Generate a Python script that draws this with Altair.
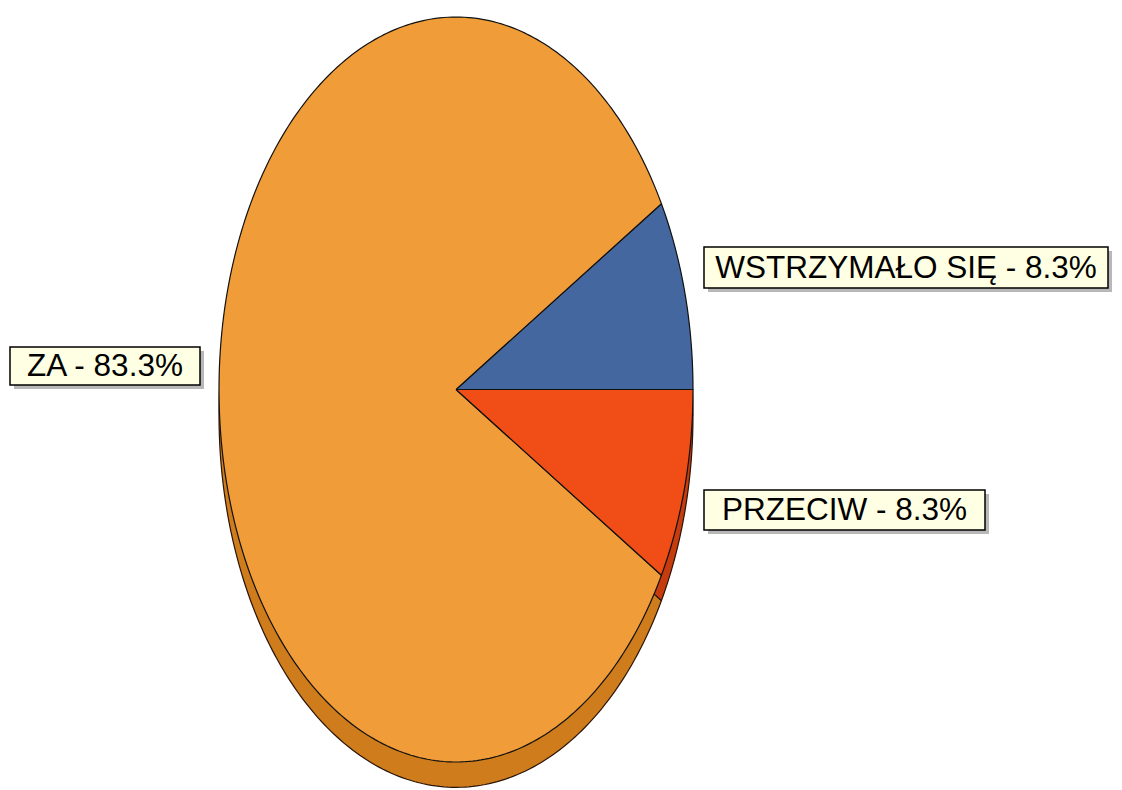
import math
import altair as alt
import pandas as pd

# ---- data ----
categories = ["WSTRZYMAŁO SIĘ", "ZA", "PRZECIW"]
values = [8.3, 83.3, 8.3]
label_texts = ["WSTRZYMAŁO SIĘ - 8.3%", "ZA - 83.3%", "PRZECIW - 8.3%"]

# ---- styles ----
top_colors = ["#44679F", "#F09C38", "#F04E16"]
side_colors = ["#2F4C7C", "#CE7C1C", "#C63C0E"]

W, H = 1106, 774
# scale domains (unit radius pie stretched by the x/y scales)
X_DOMAIN = [-1.8903, 2.7764]
Y_DOMAIN = [-1.0537, 1.0242]
DEPTH = 0.068  # 3D thickness in y units

# label box positions (pixels within the plot area)
box_x = [696, 2, 696]
box_x2 = [1100, 192, 977]
box_y = [239, 339, 482]
box_y2 = [280, 377, 522]

# ---- build wedge outlines from the values ----
total = sum(values)
rows = []
cum = 0.0
for cat, v, ct, cs in zip(categories, values, top_colors, side_colors):
    a0 = cum / total * 2 * math.pi
    cum += v
    a1 = cum / total * 2 * math.pi
    n = max(4, int(math.degrees(a1 - a0)))
    for layer, off, col in (("side", -DEPTH, cs), ("top", 0.0, ct)):
        pts = [(0.0, 0.0)]
        for k in range(n + 1):
            t = a0 + (a1 - a0) * k / n
            pts.append((math.cos(t), math.sin(t)))
        pts.append((0.0, 0.0))
        for i, (px, py) in enumerate(pts):
            rows.append({"cat": cat, "layer": layer, "key": layer + cat,
                         "idx": i, "x": px, "y": py + off, "color": col})
wedges = pd.DataFrame(rows)

xs = alt.Scale(domain=X_DOMAIN, nice=False, zero=False)
ys = alt.Scale(domain=Y_DOMAIN, nice=False, zero=False)


def wedge_layer(layer, stroke):
    return alt.Chart(wedges).transform_filter(
        alt.datum.layer == layer
    ).mark_line(stroke=stroke, strokeWidth=1.2, strokeJoin="round").encode(
        x=alt.X("x:Q", scale=xs, axis=None),
        y=alt.Y("y:Q", scale=ys, axis=None),
        order=alt.Order("idx:Q"),
        detail=alt.Detail("key:N"),
        fill=alt.Fill("color:N", scale=None),
    )


side = wedge_layer("side", "#2a1406")
top = wedge_layer("top", "#111111")

labels = pd.DataFrame({
    "text": label_texts,
    "x": box_x, "x2": box_x2, "y": box_y, "y2": box_y2,
})
labels["cx"] = (labels["x"] + labels["x2"]) / 2
labels["cy"] = (labels["y"] + labels["y2"]) / 2 + 1
labels["sx"] = labels["x"] + 4
labels["sx2"] = labels["x2"] + 4
labels["sy"] = labels["y"] + 4
labels["sy2"] = labels["y2"] + 4

shadow = alt.Chart(labels).mark_rect(color="#9a9a9a", opacity=0.7).encode(
    x=alt.X("sx:Q", scale=None), x2="sx2:Q",
    y=alt.Y("sy:Q", scale=None), y2="sy2:Q",
)
box = alt.Chart(labels).mark_rect(fill="#FFFFE3", stroke="#000000", strokeWidth=1.5).encode(
    x=alt.X("x:Q", scale=None), x2="x2:Q",
    y=alt.Y("y:Q", scale=None), y2="y2:Q",
)
text = alt.Chart(labels).mark_text(
    font="Liberation Sans", fontSize=31.5, color="#000000",
    align="center", baseline="middle",
).encode(
    x=alt.X("cx:Q", scale=None),
    y=alt.Y("cy:Q", scale=None),
    text="text:N",
)

chart = alt.layer(side, top, shadow, box, text).properties(
    width=W, height=H, padding=0, background="white"
).configure_view(stroke=None)

chart.save("out.html", embed_options={"renderer": "svg", "actions": False})
